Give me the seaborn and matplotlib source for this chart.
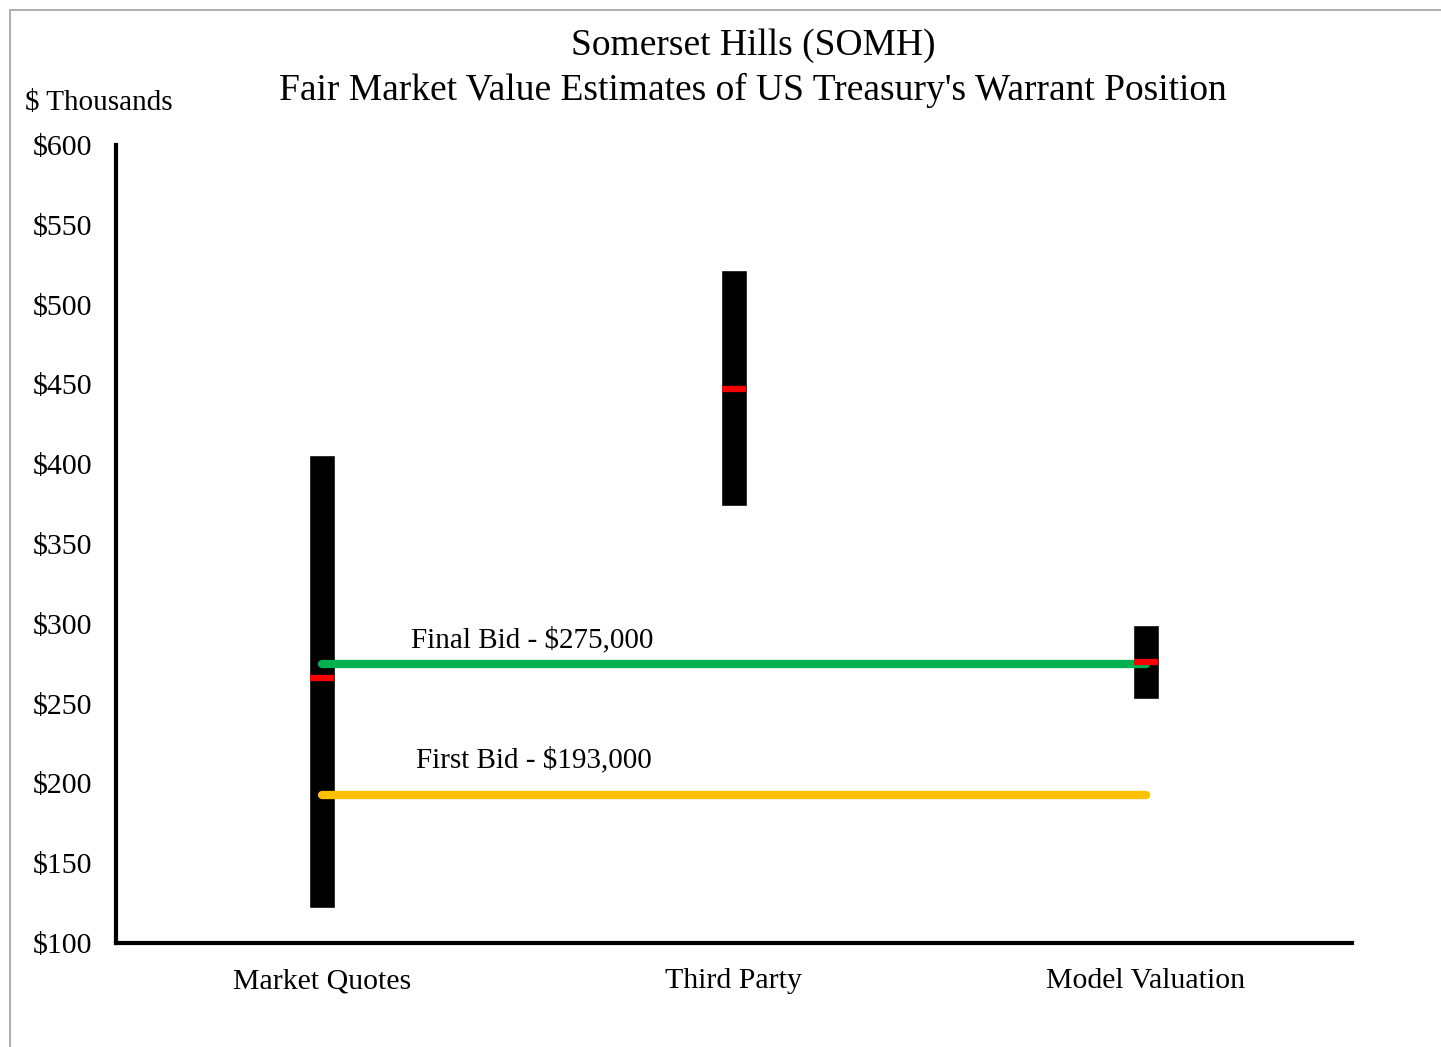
import numpy as np
import pandas as pd
import seaborn as sns
import matplotlib.pyplot as plt
from matplotlib.patches import Rectangle

# estimates in $ thousands
categories = ['Market Quotes', 'Third Party', 'Model Valuation']
low = [122, 374, 253]
high = [406, 522, 299]
mid = [266, 447, 276]

final_bid = 275
first_bid = 193
yticks = [100, 150, 200, 250, 300, 350, 400, 450, 500, 550, 600]

sns.set_theme(style='white')
plt.rcParams['font.family'] = ['Liberation Serif', 'DejaVu Serif']
plt.rcParams['text.color'] = 'black'
plt.rcParams['xtick.color'] = 'black'
plt.rcParams['ytick.color'] = 'black'

df = pd.DataFrame({'cat': categories, 'low': low, 'high': high, 'mid': mid})
df['span'] = df['high'] - df['low']
pos = np.arange(len(df))

fig = plt.figure(figsize=(14.41, 10.47), dpi=100)
ax = fig.add_axes([0.0805, 0.0993, 0.8577, 0.7622])

# black range bars
ax.bar(pos, df['span'], bottom=df['low'], width=0.062, color='black', zorder=2)

# bid lines across all three categories
bids = pd.DataFrame({'x': [0, 2, 0, 2], 'y': [final_bid, final_bid, first_bid, first_bid],
                     'bid': ['final', 'final', 'first', 'first']})
sns.lineplot(data=bids, x='x', y='y', hue='bid', palette={'final': '#00B050', 'first': '#FFC000'},
             linewidth=6, legend=False, ax=ax, zorder=3, solid_capstyle='round')

# red mid markers
ax.hlines(df['mid'], pos - 0.03, pos + 0.03, color='#FF0000', linewidth=4.5, zorder=4)

ax.text(0.51, 290, 'Final Bid - $275,000', ha='center', va='center', fontsize=21)
ax.text(0.515, 214.5, 'First Bid - $193,000', ha='center', va='center', fontsize=21)

ax.set_xlim(-0.5, 2.5)
ax.set_ylim(100, 600)
ax.set_xticks(pos)
ax.set_xticklabels(categories)
ax.set_yticks(yticks)
ax.set_yticklabels([f'${v}' for v in yticks])
ax.tick_params(axis='y', length=0, pad=17, labelsize=21.5)
ax.tick_params(axis='x', length=0, pad=18, labelsize=21.5)
ax.set_xlabel('')
ax.set_ylabel('')
sns.despine(ax=ax)
for s in ['left', 'bottom']:
    ax.spines[s].set_linewidth(3)
    ax.spines[s].set_color('black')

fig.text(753 / 1441, 1 - 46 / 1047, 'Somerset Hills (SOMH)', ha='center', va='center', fontsize=27)
fig.text(753 / 1441, 1 - 90 / 1047, "Fair Market Value Estimates of US Treasury's Warrant Position",
         ha='center', va='center', fontsize=27)
fig.text(25 / 1441, 1 - 103 / 1047, '$ Thousands', ha='left', va='center', fontsize=21)

# thin grey frame like the original chart area
fig.patches.append(Rectangle((10 / 1441, -0.5), 2, 0.5 + 1 - 10 / 1047, transform=fig.transFigure,
                             fill=False, edgecolor='#A0A0A0', linewidth=1.2))

fig.savefig('out.png', dpi=100)
